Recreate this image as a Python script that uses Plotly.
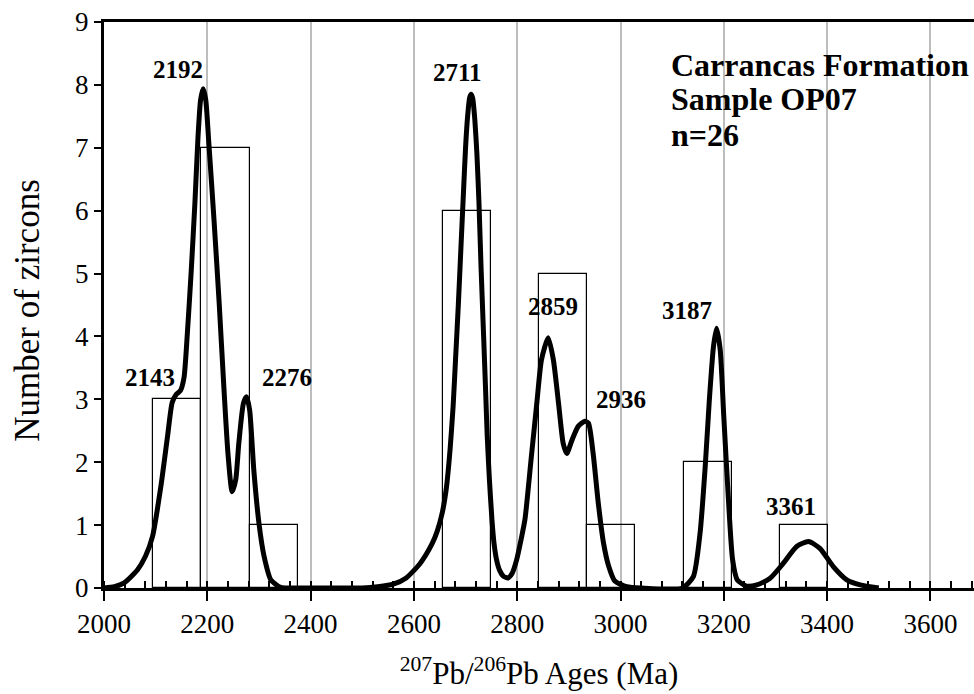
import plotly.graph_objects as go

# Histogram of 207Pb/206Pb ages: bins start at 2095 Ma, each 93.4 Ma wide
bin_start = 2095.0
bin_width = 93.4
bin_counts = [3, 7, 1, 0, 0, 0, 6, 0, 5, 1, 0, 2, 0, 1]

# Probability density curve (age in Ma, relative probability scaled to counts)
curve_age = [
    2000, 2020, 2039, 2065, 2080, 2094, 2110, 2123, 2132, 2140, 2148, 2155,
    2161, 2169, 2176, 2182, 2187, 2192, 2197, 2203, 2213, 2223, 2232, 2240,
    2248, 2255, 2261, 2270, 2276, 2282, 2290, 2300, 2310, 2323, 2342, 2360,
    2470, 2500, 2530, 2560, 2585, 2612, 2635, 2645, 2655, 2663, 2670, 2676,
    2681, 2686, 2691, 2696, 2700, 2704, 2708, 2711, 2714, 2718, 2722, 2726,
    2730, 2735, 2739, 2742, 2746, 2751, 2755, 2760, 2766, 2773, 2782, 2790,
    2799, 2807, 2815, 2828, 2838, 2847, 2860, 2870, 2880, 2889, 2896, 2906,
    2918, 2931, 2938, 2947, 2957, 2967, 2977, 2989, 3012, 3040, 3120, 3141,
    3154, 3164, 3172, 3180, 3186, 3193, 3200, 3209, 3217, 3226, 3244, 3264,
    3289, 3315, 3341, 3364, 3386, 3412, 3438, 3464, 3500,
]
curve_prob = [
    0.0, 0.02, 0.08, 0.29, 0.5, 0.82, 1.61, 2.41, 2.95, 3.08, 3.14, 3.35,
    4.0, 5.06, 6.12, 7.17, 7.76, 7.94, 7.76, 7.07, 5.85, 4.53, 3.2, 2.14,
    1.53, 1.72, 2.30, 2.94, 3.04, 2.83, 1.88, 1.03, 0.5, 0.13, 0.01, 0.0,
    0.0, 0.0, 0.02, 0.06, 0.16, 0.39, 0.7, 0.9, 1.2, 1.6, 2.2, 2.9,
    3.7, 4.5, 5.4, 6.3, 7.0, 7.5, 7.8, 7.85, 7.78, 7.44, 6.9, 6.12,
    5.1, 4.0, 3.1, 2.41, 1.75, 1.1, 0.72, 0.45, 0.28, 0.19, 0.16, 0.23,
    0.45, 0.75, 1.09, 2.14, 2.94, 3.63, 3.98, 3.63, 2.94, 2.30, 2.14, 2.35,
    2.57, 2.65, 2.62, 2.14, 1.35, 0.72, 0.35, 0.11, 0.02, 0.0, 0.0, 0.18,
    0.87, 1.93, 2.99, 3.84, 4.13, 3.79, 2.72, 1.4, 0.45, 0.13, 0.03, 0.05,
    0.15, 0.39, 0.66, 0.74, 0.63, 0.34, 0.13, 0.05, 0.0,
]

# Peak age labels and where they sit (age, count)
peak_labels = ["2192", "2143", "2276", "2711", "2859", "2936", "3187", "3361"]
label_x = [2143, 2089, 2354, 2685, 2869, 3001, 3129, 3330]
label_y = [8.24, 3.34, 3.34, 8.2, 4.47, 3.0, 4.42, 1.30]

info_lines = ["Carrancas Formation", "Sample OP07", "n=26"]
info_y = [8.32, 7.77, 7.21]

SERIF = "Liberation Serif, Times New Roman, serif"

bar_left = [bin_start + i * bin_width for i, c in enumerate(bin_counts) if c > 0]
bar_height = [c for c in bin_counts if c > 0]

fig = go.Figure()

fig.add_trace(go.Bar(
    x=bar_left, y=bar_height, width=bin_width, offset=0,
    marker=dict(color="rgba(0,0,0,0)", line=dict(color="black", width=1.2)),
    showlegend=False, hoverinfo="skip",
))

fig.add_trace(go.Scatter(
    x=curve_age, y=curve_prob, mode="lines",
    line=dict(color="black", width=5, shape="spline", smoothing=0.6),
    showlegend=False,
))

for txt, x, y in zip(peak_labels, label_x, label_y):
    fig.add_annotation(x=x, y=y, text=f"<b>{txt}</b>", showarrow=False,
                       xanchor="center", yanchor="middle",
                       font=dict(family=SERIF, size=25, color="black"))

for txt, y in zip(info_lines, info_y):
    fig.add_annotation(x=3093, y=y, text=f"<b>{txt}</b>", showarrow=False,
                       xanchor="left", yanchor="middle",
                       font=dict(family=SERIF, size=32, color="black"))

# Y-axis title, placed left of the tick labels
fig.add_annotation(xref="paper", yref="paper", x=0, y=0.49, xshift=-76,
                   text="Number of zircons", textangle=-90, showarrow=False,
                   xanchor="center", yanchor="middle",
                   font=dict(family=SERIF, size=35, color="black"))

fig.update_layout(
    width=974, height=694,
    margin=dict(l=104, r=0, t=22, b=106),
    paper_bgcolor="white", plot_bgcolor="white",
    font=dict(family=SERIF, color="black"),
    bargap=0,
)

fig.update_xaxes(
    range=[2000, 3684.4], tickmode="linear", tick0=2000, dtick=200,
    showgrid=True, gridcolor="#bdbdbd", gridwidth=1.5,
    showline=True, linecolor="black", linewidth=3, mirror=True,
    ticks="outside", ticklen=10, tickwidth=2, tickcolor="black",
    minor=dict(ticks="inside", dtick=40, tick0=2000, ticklen=7,
               tickwidth=1.5, tickcolor="black", showgrid=False),
    tickfont=dict(family=SERIF, size=27, color="black"),
    title=dict(text="<sup>207</sup>Pb/<sup>206</sup>Pb Ages (Ma)",
               font=dict(family=SERIF, size=31, color="black"), standoff=24),
    zeroline=False,
)

fig.update_yaxes(
    range=[0, 9], tickmode="linear", tick0=0, dtick=1,
    showgrid=False, zeroline=False,
    showline=True, linecolor="black", linewidth=3, mirror=False,
    ticks="outside", ticklen=7, tickwidth=2, tickcolor="black",
    tickfont=dict(family=SERIF, size=27, color="black"),
)

fig.write_html("out.html")
